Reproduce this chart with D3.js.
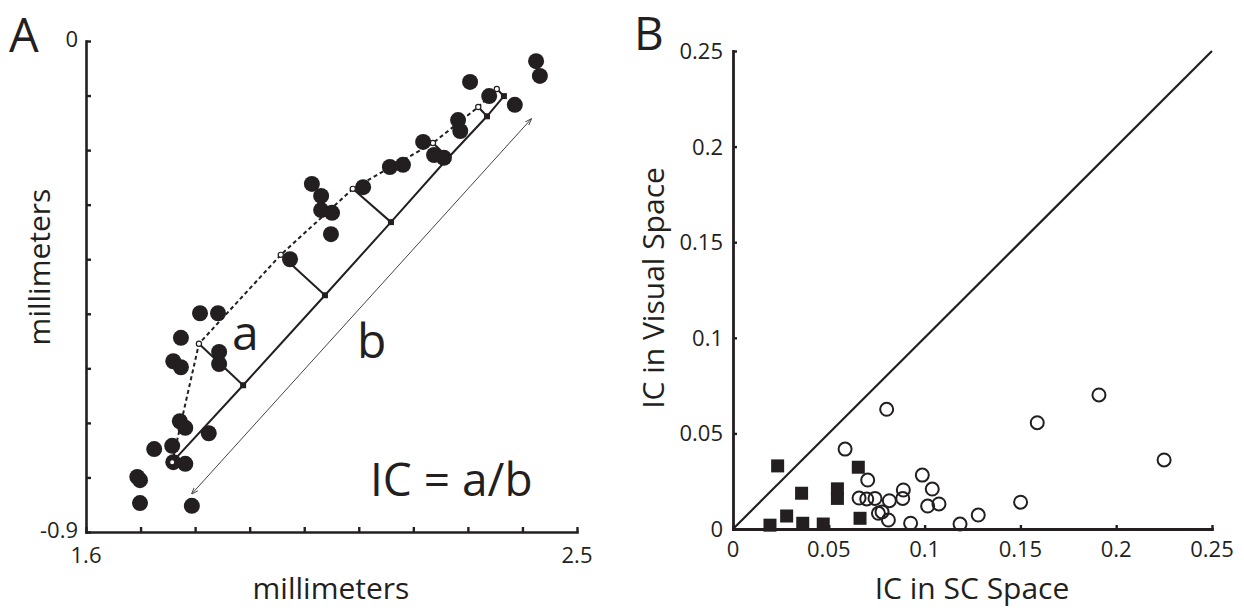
<!DOCTYPE html>
<html>
<head>
<meta charset="utf-8">
<script src="https://cdn.jsdelivr.net/npm/d3@7"></script>
<style>
  html, body { margin: 0; padding: 0; background: #fff; }
  svg text { font-family: "Open Sans", "Noto Sans", sans-serif; fill: #231f20; }
</style>
</head>
<body>
<svg id="chart" width="1244" height="608"></svg>
<script>
// ---------- Panel A data (millimeters) ----------
const aDotX = [2.425, 2.432, 2.304, 2.339, 2.386, 2.282, 2.286, 2.218, 2.238, 2.256,
               2.157, 2.181, 2.108, 2.014, 2.031, 2.031, 2.051, 2.049, 1.974,
               1.809, 1.842, 1.774, 1.760, 1.774, 1.844, 1.844, 1.772, 1.782, 1.825,
               1.725, 1.758, 1.782, 1.760, 1.694, 1.699, 1.699, 1.794];
const aDotY = [-0.037, -0.064, -0.075, -0.101, -0.117, -0.145, -0.165, -0.185, -0.209, -0.214,
               -0.231, -0.227, -0.268, -0.262, -0.284, -0.310, -0.315, -0.354, -0.400,
               -0.499, -0.499, -0.544, -0.587, -0.598, -0.570, -0.592, -0.697, -0.709, -0.719,
               -0.748, -0.742, -0.775, -0.772, -0.799, -0.805, -0.847, -0.852];
// dashed (measured) curve vertices
const curveX = [1.758, 1.807, 1.957, 2.089, 2.236, 2.319, 2.353];
const curveY = [-0.772, -0.555, -0.392, -0.271, -0.187, -0.121, -0.088];
// solid straight line: projection points
const fitX = [1.758, 1.888, 2.038, 2.159, 2.264, 2.335, 2.366];
const fitY = [-0.772, -0.631, -0.466, -0.332, -0.214, -0.138, -0.101];
// "b" arrow ends
const arrowX = [1.794, 2.416];
const arrowY = [-0.830, -0.143];
const aTickValuesX = [1.6, 1.7, 1.8, 1.9, 2.0, 2.1, 2.2, 2.3, 2.4, 2.5];
const aTickLabelsX = ["1.6", "", "", "", "", "", "", "", "", "2.5"];
const aTickValuesY = [0, -0.1, -0.2, -0.3, -0.4, -0.5, -0.6, -0.7, -0.8, -0.9];
const aTickLabelsY = ["0", "", "", "", "", "", "", "", "", "-0.9"];

// ---------- Panel B data (IC) ----------
const sqX = [0.0233, 0.0358, 0.0545, 0.0545, 0.0654, 0.0280, 0.0193, 0.0364, 0.0471, 0.0663];
const sqY = [0.0330, 0.0187, 0.0210, 0.0160, 0.0323, 0.0068, 0.0020, 0.0030, 0.0026, 0.0056];
const circX = [0.0802, 0.0585, 0.0703, 0.0658, 0.0698, 0.0741, 0.0816, 0.0889, 0.0886, 0.0988,
               0.1040, 0.1016, 0.1075, 0.0759, 0.0778, 0.0811, 0.0927, 0.1185, 0.1280, 0.1501,
               0.1588, 0.1910, 0.2250];
const circY = [0.0626, 0.0418, 0.0256, 0.0162, 0.0157, 0.0160, 0.0148, 0.0204, 0.0160, 0.0282,
               0.0209, 0.0120, 0.0131, 0.0082, 0.0089, 0.0047, 0.0030, 0.0026, 0.0073, 0.0140,
               0.0556, 0.0701, 0.0361];
const bTickValues = [0, 0.05, 0.1, 0.15, 0.2, 0.25];
const bTickLabels = ["0", "0.05", "0.1", "0.15", "0.2", "0.25"];
const unityLine = [0, 0.25];

const svg = d3.select("#chart");
const ink = "#231f20";

// ================= Panel A =================
const xA = d3.scaleLinear().domain([1.6, 2.5]).range([86, 577]);
const yA = d3.scaleLinear().domain([-0.9, 0]).range([532, 41]);
const gA = svg.append("g");

// dots
gA.selectAll("circle.dot").data(aDotX).join("circle")
  .attr("class", "dot")
  .attr("cx", (d, i) => xA(d)).attr("cy", (d, i) => yA(aDotY[i]))
  .attr("r", 8).attr("fill", ink);

// b arrow
const defs = svg.append("defs");
defs.append("marker").attr("id", "ah").attr("viewBox", "0 0 10 10")
  .attr("refX", 9).attr("refY", 5).attr("markerWidth", 7).attr("markerHeight", 7)
  .attr("orient", "auto-start-reverse")
  .append("path").attr("d", "M0,1.5 L10,5 L0,8.5").attr("fill", "none")
  .attr("stroke", "#444").attr("stroke-width", 1.3);
gA.append("line")
  .attr("x1", xA(arrowX[0])).attr("y1", yA(arrowY[0]))
  .attr("x2", xA(arrowX[1])).attr("y2", yA(arrowY[1]))
  .attr("stroke", "#444").attr("stroke-width", 1)
  .attr("marker-start", "url(#ah)").attr("marker-end", "url(#ah)");

// solid straight line
const lineA = d3.line().x(d => xA(d[0])).y(d => yA(d[1]));
gA.append("path").datum(fitX.map((d, i) => [d, fitY[i]]))
  .attr("d", lineA).attr("fill", "none").attr("stroke", ink).attr("stroke-width", 2);
// connectors (a)
gA.selectAll("line.conn").data(d3.range(1, curveX.length)).join("line")
  .attr("class", "conn")
  .attr("x1", i => xA(curveX[i])).attr("y1", i => yA(curveY[i]))
  .attr("x2", i => xA(fitX[i])).attr("y2", i => yA(fitY[i]))
  .attr("stroke", ink).attr("stroke-width", 2);
// dashed curve
gA.append("path").datum(curveX.map((d, i) => [d, curveY[i]]))
  .attr("d", lineA).attr("fill", "none").attr("stroke", ink).attr("stroke-width", 2)
  .attr("stroke-dasharray", "4,3");
// markers
gA.selectAll("rect.fp").data(d3.range(fitX.length)).join("rect")
  .attr("class", "fp")
  .attr("x", i => xA(fitX[i]) - 3).attr("y", i => yA(fitY[i]) - 3)
  .attr("width", 6).attr("height", 6).attr("fill", ink);
gA.selectAll("circle.cp").data(d3.range(curveX.length)).join("circle")
  .attr("class", "cp")
  .attr("cx", i => xA(curveX[i])).attr("cy", i => yA(curveY[i]))
  .attr("r", 2.6).attr("fill", "#fff").attr("stroke", ink).attr("stroke-width", 1.2);

// axes A
const axAx = d3.axisBottom(xA).tickValues(aTickValuesX)
  .tickSizeInner(-5).tickSizeOuter(0).tickFormat("");
const axAy = d3.axisLeft(yA).tickValues(aTickValuesY)
  .tickSizeInner(-5).tickSizeOuter(0).tickFormat("");
const gAx = gA.append("g").attr("transform", "translate(0,532)").call(axAx);
const gAy = gA.append("g").attr("transform", "translate(86,0)").call(axAy);
[gAx, gAy].forEach(g => {
  g.select(".domain").attr("stroke", ink).attr("stroke-width", 2.6).attr("stroke-linecap", "square");
  g.selectAll(".tick line").attr("stroke", ink).attr("stroke-width", 2.4);
});
gA.selectAll("text.axl").data(aTickValuesX).join("text")
  .attr("class", "axl")
  .attr("x", d => xA(d)).attr("y", 563).attr("text-anchor", "middle")
  .attr("font-size", 22).text((d, i) => aTickLabelsX[i]);
gA.selectAll("text.ayl").data(aTickValuesY).join("text")
  .attr("class", "ayl")
  .attr("x", 78).attr("y", d => yA(d) + 6).attr("text-anchor", "end")
  .attr("font-size", 22).text((d, i) => aTickLabelsY[i]);

gA.append("text").attr("x", 331).attr("y", 599).attr("text-anchor", "middle")
  .attr("font-size", 30).text("millimeters");
gA.append("text").attr("transform", "translate(50,267) rotate(-90)")
  .attr("text-anchor", "middle").attr("font-size", 30).text("millimeters");

gA.append("text").attr("x", 9).attr("y", 52).attr("font-size", 47).text("A");
gA.append("text").attr("x", 232).attr("y", 350).attr("font-size", 48).text("a");
gA.append("text").attr("x", 357).attr("y", 358).attr("font-size", 48).text("b");
gA.append("text").attr("x", 370).attr("y", 496).attr("font-size", 46).text("IC = a/b");

// ================= Panel B =================
const xB = d3.scaleLinear().domain([0, 0.25]).range([733, 1212]);
const yB = d3.scaleLinear().domain([0, 0.25]).range([529, 51]);
const gB = svg.append("g");

gB.append("line")
  .attr("x1", xB(unityLine[0])).attr("y1", yB(unityLine[0]))
  .attr("x2", xB(unityLine[1])).attr("y2", yB(unityLine[1]))
  .attr("stroke", ink).attr("stroke-width", 2.2);

gB.selectAll("rect.sq").data(sqX).join("rect")
  .attr("class", "sq")
  .attr("x", d => xB(d) - 6.5).attr("y", (d, i) => yB(sqY[i]) - 6.5)
  .attr("width", 13).attr("height", 13).attr("fill", ink);

gB.selectAll("circle.oc").data(circX).join("circle")
  .attr("class", "oc")
  .attr("cx", d => xB(d)).attr("cy", (d, i) => yB(circY[i]))
  .attr("r", 6.5).attr("fill", "none").attr("stroke", ink).attr("stroke-width", 2);

const axBx = d3.axisBottom(xB).tickValues(bTickValues)
  .tickSizeInner(-4).tickSizeOuter(0).tickFormat("");
const axBy = d3.axisLeft(yB).tickValues(bTickValues)
  .tickSizeInner(-4).tickSizeOuter(0).tickFormat("");
const gBx = gB.append("g").attr("transform", "translate(0,529)").call(axBx);
const gBy = gB.append("g").attr("transform", "translate(733,0)").call(axBy);
[gBx, gBy].forEach(g => {
  g.select(".domain").attr("stroke", ink).attr("stroke-width", 2.8).attr("stroke-linecap", "square");
  g.selectAll(".tick line").attr("stroke", ink).attr("stroke-width", 2.4);
});
gB.selectAll("text.bxl").data(bTickValues).join("text")
  .attr("class", "bxl")
  .attr("x", d => xB(d)).attr("y", 557).attr("text-anchor", "middle")
  .attr("font-size", 22).text((d, i) => bTickLabels[i]);
gB.selectAll("text.byl").data(bTickValues).join("text")
  .attr("class", "byl")
  .attr("x", 723).attr("y", d => yB(d) + 8).attr("text-anchor", "end")
  .attr("font-size", 22).text((d, i) => bTickLabels[i]);

gB.append("text").attr("x", 972).attr("y", 599).attr("text-anchor", "middle")
  .attr("font-size", 30).text("IC in SC Space");
gB.append("text").attr("transform", "translate(664,288) rotate(-90)")
  .attr("text-anchor", "middle").attr("font-size", 30).text("IC in Visual Space");

gB.append("text").attr("x", 634).attr("y", 50).attr("font-size", 46).text("B");
</script>
</body>
</html>
